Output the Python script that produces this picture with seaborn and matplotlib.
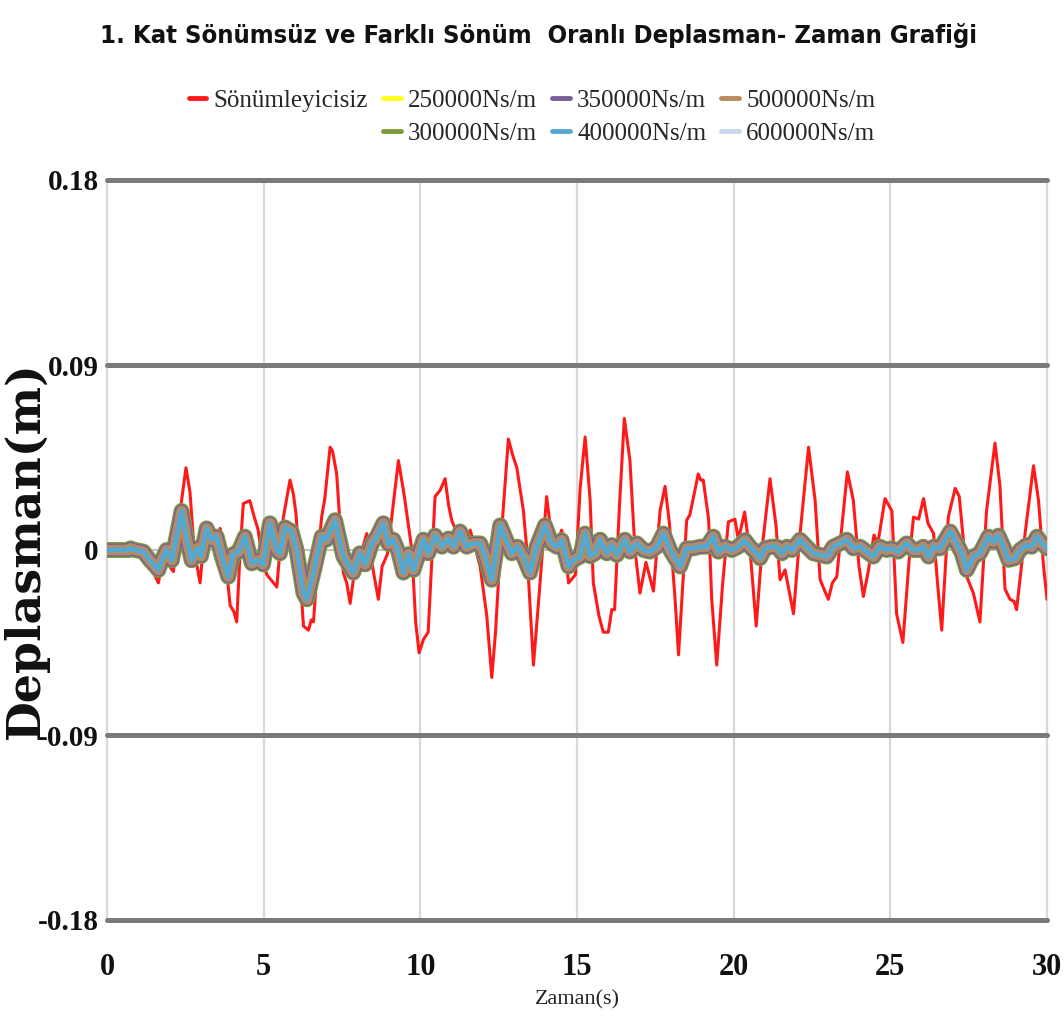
import matplotlib
matplotlib.use("Agg")
import matplotlib.pyplot as plt
from matplotlib import font_manager as fm
from matplotlib.lines import Line2D
import seaborn as sns
import pandas as pd

# Undamped (no damper) first-storey displacement, t [s] / x [m]
t_undamped = [0.0, 0.8, 1.2, 1.45, 1.64, 1.83, 2.0, 2.12, 2.3, 2.52, 2.65, 2.78, 2.97, 3.13, 3.3, 3.45,
              3.61, 3.75, 3.93, 4.05, 4.14, 4.25, 4.35, 4.56, 4.7, 4.82, 4.95, 5.1, 5.42, 5.55, 5.63,
              5.84, 5.95, 6.03, 6.11, 6.27, 6.43, 6.52, 6.59, 6.75, 6.85, 6.95, 7.12, 7.2, 7.33, 7.45,
              7.54, 7.65, 7.76, 7.9, 8.05, 8.29, 8.45, 8.66, 8.78, 8.95, 9.12, 9.3, 9.45, 9.51, 9.73,
              9.85, 9.96, 10.1, 10.25, 10.47, 10.63, 10.79, 10.9, 11.0, 11.15, 11.27, 11.38, 11.5,
              11.59, 11.7, 11.91, 12.12, 12.28, 12.4, 12.55, 12.81, 12.95, 13.08, 13.29, 13.4, 13.61,
              13.8, 14.03, 14.2, 14.3, 14.51, 14.62, 14.73, 14.95, 15.1, 15.26, 15.42, 15.52, 15.7,
              15.84, 16.0, 16.11, 16.2, 16.35, 16.51, 16.69, 16.85, 17.01, 17.2, 17.44, 17.65, 17.81,
              17.95, 18.13, 18.24, 18.5, 18.6, 18.87, 18.95, 19.03, 19.2, 19.3, 19.46, 19.65, 19.83,
              20.04, 20.15, 20.35, 20.55, 20.72, 20.9, 21.16, 21.35, 21.48, 21.64, 21.91, 22.1, 22.39,
              22.6, 22.76, 23.02, 23.15, 23.29, 23.63, 23.82, 24.0, 24.14, 24.3, 24.48, 24.6, 24.83,
              25.05, 25.2, 25.4, 25.6, 25.74, 25.9, 26.06, 26.2, 26.38, 26.5, 26.64, 26.85, 27.07,
              27.2, 27.44, 27.65, 27.86, 28.07, 28.34, 28.5, 28.66, 28.82, 28.95, 29.03, 29.3, 29.57,
              29.73, 29.89, 30.0]
x_undamped = [0.0, 0.0, -0.002, -0.010, -0.016, 0.0, -0.008, -0.0105, 0.015, 0.040, 0.028, 0.0, -0.016,
              0.011, 0.008, 0.0, 0.0105, 0.0, -0.027, -0.030, -0.035, 0.0, 0.0226, 0.024, 0.016, 0.010,
              -0.004, -0.012, -0.018, 0.005, 0.016, 0.034, 0.027, 0.018, 0.0, -0.037, -0.039, -0.034,
              -0.035, 0.0, 0.016, 0.025, 0.050, 0.048, 0.037, 0.010, -0.011, -0.016, -0.026, -0.010,
              -0.005, 0.008, -0.006, -0.024, -0.008, -0.002, 0.020, 0.0435, 0.030, 0.024, 0.0, -0.035,
              -0.050, -0.0435, -0.040, 0.026, 0.029, 0.0347, 0.022, 0.0145, 0.009, 0.011, 0.003, 0.005,
              0.0097, 0.004, -0.008, -0.032, -0.062, -0.040, 0.0, 0.054, 0.046, 0.040, 0.019, 0.0,
              -0.056, -0.020, 0.026, 0.005, 0.0, 0.0097, 0.002, -0.016, -0.012, 0.030, 0.055, 0.024,
              -0.016, -0.032, -0.040, -0.040, -0.029, -0.029, 0.020, 0.064, 0.0435, 0.0, -0.021, -0.006,
              -0.020, 0.019, 0.031, 0.013, -0.024, -0.051, 0.0145, 0.017, 0.037, 0.034, 0.034, 0.015,
              -0.024, -0.056, -0.016, 0.0137, 0.015, 0.005, 0.0185, -0.005, -0.037, 0.0, 0.0347, 0.012,
              -0.0145, -0.0097, -0.031, 0.005, 0.050, 0.024, -0.0145, -0.024, -0.016, -0.013, 0.038,
              0.024, -0.008, -0.0226, -0.010, 0.0073, 0.003, 0.025, 0.019, -0.031, -0.045, -0.005,
              0.016, 0.015, 0.025, 0.013, 0.008, -0.015, -0.039, 0.016, 0.030, 0.026, -0.013, -0.021,
              -0.035, 0.019, 0.052, 0.031, -0.019, -0.024, -0.025, -0.029, 0.008, 0.041, 0.024,
              -0.008, -0.024]

# Damped runs (250000 ... 600000 Ns/m); the six responses coincide within the line width
t_damped = [0.0, 0.7, 0.75, 0.9, 1.16, 1.37, 1.55, 1.64, 1.75, 1.9, 2.07, 2.2, 2.38, 2.55, 2.7, 2.9,
            3.0, 3.18, 3.34, 3.5, 3.66, 3.87, 4.03, 4.19, 4.4, 4.62, 4.83, 4.98, 5.2, 5.42, 5.52,
            5.68, 5.89, 6.05, 6.27, 6.38, 6.59, 6.85, 7.0, 7.28, 7.54, 7.86, 8.07, 8.24, 8.45, 8.61,
            8.82, 8.98, 9.14, 9.3, 9.46, 9.62, 9.78, 10.1, 10.15, 10.25, 10.47, 10.69, 10.9, 11.06,
            11.27, 11.48, 11.7, 11.91, 12.07, 12.28, 12.55, 12.7, 12.92, 13.1, 13.29, 13.5, 13.71,
            13.98, 14.19, 14.35, 14.51, 14.73, 14.89, 15.1, 15.26, 15.42, 15.58, 15.74, 15.95, 16.11,
            16.27, 16.53, 16.69, 16.91, 17.12, 17.33, 17.55, 17.76, 17.97, 18.29, 18.5, 18.71, 18.93,
            19.14, 19.35, 19.51, 19.72, 19.94, 20.15, 20.36, 20.52, 20.68, 20.84, 21.0, 21.21, 21.38,
            21.54, 21.7, 21.86, 22.12, 22.33, 22.54, 22.76, 22.97, 23.18, 23.4, 23.61, 23.82, 24.03,
            24.25, 24.46, 24.67, 24.88, 25.04, 25.25, 25.52, 25.73, 25.89, 26.05, 26.22, 26.38,
            26.59, 26.91, 27.12, 27.28, 27.44, 27.65, 27.86, 28.13, 28.29, 28.45, 28.61, 28.77,
            28.98, 29.14, 29.35, 29.51, 29.68, 29.84, 30.0]
x_damped = [0.0, 0.0, 0.0008, 0.0, -0.0008, -0.005, -0.008, -0.0097, -0.005, 0.0, -0.005, 0.005, 0.019,
            0.005, -0.005, 0.001, -0.003, 0.0105, 0.005, 0.0065, -0.003, -0.013, -0.002, -0.001,
            0.0065, -0.0065, -0.005, -0.007, 0.013, 0.0, -0.0016, 0.011, 0.009, 0.0, -0.021, -0.024,
            -0.011, 0.0065, 0.005, 0.0145, -0.003, -0.011, -0.0016, -0.007, 0.003, 0.0065, 0.013,
            0.003, 0.005, -0.001, -0.011, -0.002, -0.0097, 0.005, 0.003, -0.0016, 0.007, 0.0016,
            0.0056, 0.0016, 0.009, 0.0016, 0.0032, 0.0032, -0.0032, -0.0145, 0.012, 0.0065, -0.0016,
            0.0016, -0.0032, -0.011, 0.0016, 0.012, 0.0032, 0.0016, 0.0048, -0.008, -0.0048, -0.0032,
            0.008, -0.003, -0.0016, 0.005, -0.0016, 0.0024, -0.0024, 0.005, -0.0008, 0.0032, 0.0,
            -0.0008, 0.0016, 0.008, 0.0, -0.008, 0.0008, 0.0008, 0.0016, 0.0016, 0.0065, -0.0008,
            0.0016, 0.0, 0.0016, 0.0048, 0.0016, -0.0008, -0.004, 0.0008, 0.0016, 0.0016, -0.0016,
            0.0016, 0.0, 0.005, 0.0016, -0.0016, -0.0024, -0.0032, 0.0016, 0.0032, 0.005, 0.0008,
            0.0016, -0.0008, -0.0032, 0.0016, 0.0, 0.0008, -0.0008, 0.0032, 0.0, 0.0, 0.0016,
            -0.0032, 0.0016, 0.0008, 0.009, 0.0032, -0.0016, -0.0097, -0.0032, -0.0016, 0.0065,
            0.004, 0.007, 0.0016, -0.0048, -0.004, 0.0, 0.0024, 0.0016, 0.0065, 0.0032, 0.0008]

series_colors = {"Sönümleyicisiz": "#ff1a1a", "250000Ns/m": "#ffff1a", "300000Ns/m": "#7c9c3c",
                 "350000Ns/m": "#7a5f9c", "400000Ns/m": "#55a8cf", "500000Ns/m": "#b88a5e",
                 "600000Ns/m": "#c8d7ea"}

x_ticks = [0, 5, 10, 15, 20, 25, 30]
y_ticks = [-0.18, -0.09, 0, 0.09, 0.18]
y_tick_labels = ["-0.18", "-0.09", "0", "0.09", "0.18"]

title_text = "1. Kat Sönümsüz ve Farklı Sönüm  Oranlı Deplasman- Zaman Grafiği"

sns.set_theme(style="white")
plt.rcParams["font.family"] = ["Liberation Serif", "DejaVu Serif"]

fig = plt.figure(figsize=(10.64, 10.19), dpi=100)
ax = fig.add_axes([107 / 1064, 1 - 920 / 1019, 940 / 1064, 740 / 1019])

red = pd.DataFrame({"t": t_undamped, "x": x_undamped})
damped = pd.DataFrame({"t": t_damped, "x": x_damped})

sns.lineplot(data=red, x="t", y="x", ax=ax, color=series_colors["Sönümleyicisiz"],
             lw=2.2, estimator=None, sort=False, zorder=3)

# line widths (pt) for the overlapping damped runs, drawn widest first
band_layers = [("600000Ns/m", 9.0), ("250000Ns/m", 9.0), ("300000Ns/m", 11.5),
               ("350000Ns/m", 9.5), ("500000Ns/m", 7.5), ("400000Ns/m", 3.6)]
for i, (lab, w) in enumerate(band_layers):
    sns.lineplot(data=damped, x="t", y="x", ax=ax, color=series_colors[lab], lw=w,
                 estimator=None, sort=False, zorder=4 + i)

ax.set_xlim(0, 30)
ax.set_ylim(-0.18, 0.18)
ax.set_xticks(x_ticks)
ax.set_yticks(y_ticks)
ax.set_yticklabels(y_tick_labels)
for s in ax.spines.values():
    s.set_visible(False)

ax.grid(True, axis="both")
for val, gl in zip(y_ticks, ax.get_ygridlines()):
    gl.set_clip_on(False)
    gl.set_zorder(2)
    if val == 0:
        gl.set_color("#bdbdbd")
        gl.set_linewidth(1.3)
    else:
        gl.set_color("#7a7a7a")
        gl.set_linewidth(3.6)
for gl in ax.get_xgridlines():
    gl.set_clip_on(False)
    gl.set_color("#d9d9d9")
    gl.set_linewidth(1.6)
    gl.set_zorder(1)

ax.tick_params(axis="both", length=0)
ax.tick_params(axis="y", pad=6, labelsize=21)
ax.tick_params(axis="x", pad=24, labelsize=22)
for lbl in ax.get_xticklabels() + ax.get_yticklabels():
    lbl.set_fontweight("bold")
    lbl.set_color("#111111")

ax.set_xlabel("Zaman(s)", fontsize=16, labelpad=6, color="#222222")
ax.set_ylabel("Deplasman(m)", fontsize=33, fontweight="bold",
              family=["DejaVu Serif"], color="#111111")
ax.yaxis.set_label_coords(-0.062, 0.5)

# bold condensed sans for the title when one is installed
bold_narrow = [f.name for f in fm.fontManager.ttflist
               if ("Narrow" in f.name or "Condensed" in f.name or f.stretch == "condensed")
               and f.weight in (600, 700, "bold", "semibold")]
title_family = [bold_narrow[0]] if bold_narrow else ["Liberation Sans"]
title = fig.text(0.506, 1 - 36 / 1019, title_text, ha="center", va="center", fontsize=24,
                 fontweight="bold", stretch="condensed",
                 family=title_family + ["DejaVu Sans"], color="#111111")
renderer = fig.canvas.get_renderer()
w = title.get_window_extent(renderer).width
title.set_fontsize(24 * 880 / w)

# legend: red entry alone in the first column, damped runs in two rows
legend_order = ["Sönümleyicisiz", None, "250000Ns/m", "300000Ns/m",
                "350000Ns/m", "400000Ns/m", "500000Ns/m", "600000Ns/m"]
handles, labels = [], []
for lab in legend_order:
    if lab is None:
        handles.append(Line2D([], [], alpha=0))
        labels.append("")
    else:
        handles.append(Line2D([], [], color=series_colors[lab], lw=3.5))
        labels.append(lab)
fig.legend(handles, labels, ncol=4, loc="center", bbox_to_anchor=(0.5, 1 - 117 / 1019),
           frameon=False, fontsize=18, handlelength=0.7, handletextpad=0.3,
           columnspacing=0.6, labelspacing=0.4)

fig.savefig("out.png", dpi=100)
